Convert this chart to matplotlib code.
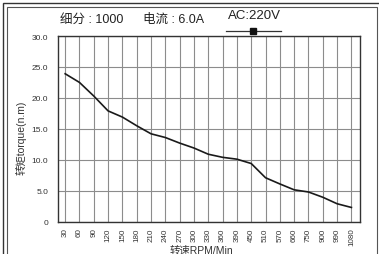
import numpy as np
import matplotlib.pyplot as plt
from matplotlib.lines import Line2D
from matplotlib.patches import Rectangle

plt.rcParams['font.family'] = ['Noto Sans CJK SC', 'DejaVu Sans']

speeds = ['30', '60', '90', '120', '150', '180', '210', '240', '270', '300', '330',
          '360', '390', '450', '510', '570', '660', '750', '900', '990', '1080']
torque = [23.9, 22.5, 20.3, 17.9, 16.9, 15.5, 14.2, 13.6, 12.7, 11.9, 10.9,
          10.4, 10.1, 9.4, 7.1, 6.1, 5.15, 4.8, 3.95, 2.9, 2.3]
yticks = [0, 5, 10, 15, 20, 25, 30]
ylabels = ['0', '5.0', '10.0', '15.0', '20.0', '25.0', '30.0']

mixed = ['Liberation Sans', 'Noto Sans CJK SC']

fig = plt.figure(figsize=(3.79, 2.55), dpi=100)
ax = fig.add_axes([58/379, 1-222.7/255, (360-58)/379, (222.7-37)/255])

x = np.arange(len(speeds))
ax.plot(x, torque, color='#1a1a1a', lw=1.2, zorder=3)

ax.set_xlim(-0.5, 20.6)
ax.set_ylim(0, 30)
ax.set_xticks(x)
ax.set_xticklabels(speeds, rotation=90, fontsize=5.8, color='#333333', family='Liberation Sans')
ax.set_yticks(yticks)
ax.set_yticklabels(ylabels, fontsize=6, color='#333333', family='Liberation Sans')
ax.tick_params(axis='x', length=0, pad=4)
ax.tick_params(axis='y', length=0, pad=7)
ax.grid(True, color='#8c8c8c', lw=0.8)
for s in ax.spines.values():
    s.set_color('#333333')
    s.set_linewidth(1.0)

fig.text(21/379, 1-138/255, '转矩torque(n.m)', rotation=90, ha='center', va='center',
         fontsize=7.5, color='#333333', family=mixed)
fig.text(201/379, 1-250.5/255, '转速RPM/Min', ha='center', va='center', fontsize=7.5,
         color='#333333', family=mixed)

fig.text(60/379, 1-20/255, '细分 : 1000', ha='left', va='center', fontsize=9,
         color='#222222', family=mixed)
fig.text(143/379, 1-20/255, '电流 : 6.0A', ha='left', va='center', fontsize=9,
         color='#222222', family=mixed)
fig.text(228/379, 1-16/255, 'AC:220V', ha='left', va='center', fontsize=9.5,
         color='#222222', family='Liberation Sans')
fig.add_artist(Line2D([226/379, 281/379], [1-31.5/255, 1-31.5/255], color='#333333', lw=0.9))
fig.add_artist(Line2D([253/379], [1-31.5/255], marker='s', markersize=4.5, color='#111111', lw=0))

# double frame around the figure
fig.add_artist(Rectangle((3/379, -0.1), 376.5/379, 1.1-4/255, fill=False, ec='#333333', lw=1.0,
                         transform=fig.transFigure))
fig.add_artist(Rectangle((7/379, -0.1), 369.5/379, 1.1-8/255, fill=False, ec='#555555', lw=0.8,
                         transform=fig.transFigure))

fig.savefig('out.png', dpi=100)
